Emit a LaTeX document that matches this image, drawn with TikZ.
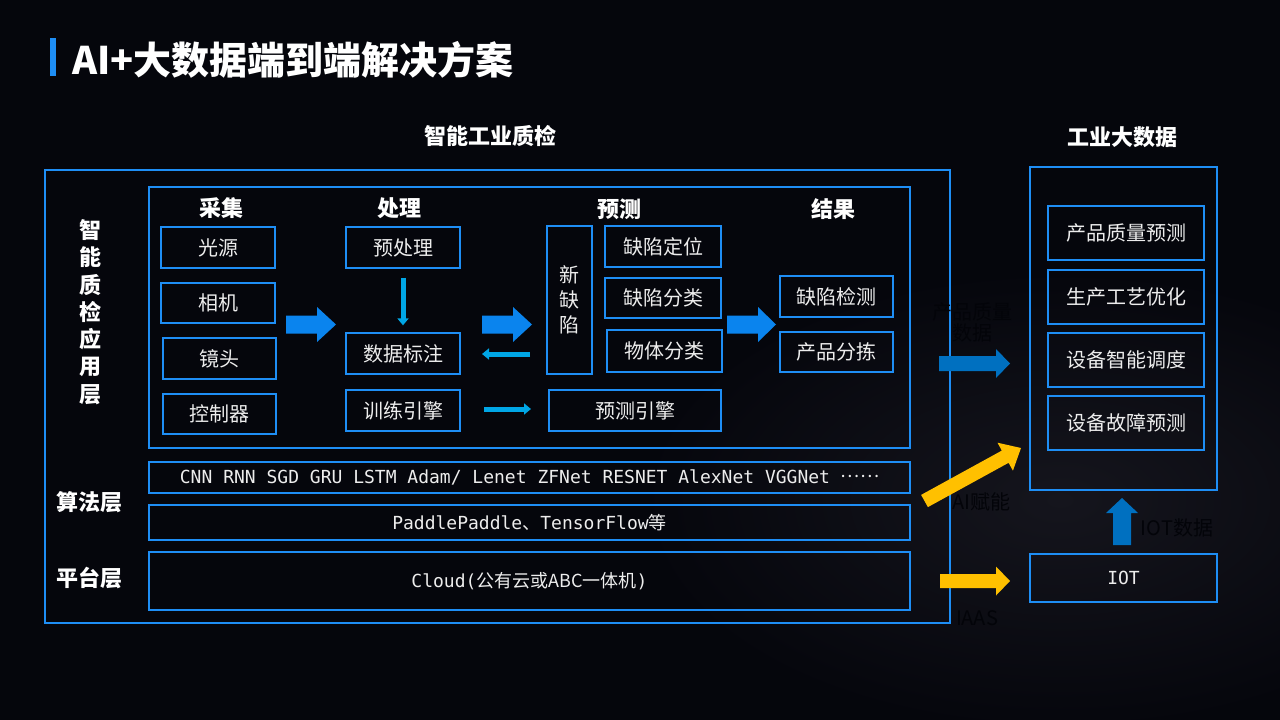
\documentclass[tikz,border=0pt]{standalone}
\usepackage{fontspec}
\newfontfamily\cjk{Noto Sans CJK SC}
\newfontfamily\monof{DejaVu Sans Mono}
\usetikzlibrary{arrows.meta}
\definecolor{bg}{HTML}{05060C}
\definecolor{glow}{HTML}{15151D}
\definecolor{boxblue}{HTML}{1E8EF5}
\definecolor{bigblue}{HTML}{0A84EE}
\definecolor{thinblue}{HTML}{00A6E6}
\definecolor{darkblue}{HTML}{0070C0}
\definecolor{gold}{HTML}{FFC000}
\definecolor{txt}{HTML}{EDEDED}
\definecolor{inktext}{HTML}{030409}
\tikzset{
  box/.style={draw=boxblue, line width=1.3, text=txt, inner sep=0pt,
    font=\cjk\fontsize{20}{24}\selectfont},
  frame/.style={draw=boxblue, line width=1.3, inner sep=0pt},
  hdr/.style={text=white, inner sep=0pt, font=\cjk\bfseries\fontsize{22}{26}\selectfont},
  vlabel/.style={text=white, inner sep=0pt, align=center,
    font=\cjk\bfseries\fontsize{22}{27.3}\selectfont},
  monotext/.style={text=txt, font=\monof\fontsize{18}{20}\selectfont},
  hiddentext/.style={text=inktext, inner sep=0pt, align=center,
    font=\cjk\fontsize{20}{21}\selectfont},
  thinarrow/.style={draw=thinblue, line width=5, -{Triangle[width=11,length=7]}},
}
\newcommand\blockR[7]{% x0, xhead, xtip, ymid, halfbody, halfhead, color
  \fill[#7] (#1,#4-#5) -- (#2,#4-#5) -- (#2,#4-#6) -- (#3,#4) -- (#2,#4+#6) -- (#2,#4+#5) -- (#1,#4+#5) -- cycle;}
\begin{document}
\begin{tikzpicture}[x=1pt,y=-1pt]
\useasboundingbox (0,0) rectangle (1280,720);
\fill[bg] (0,0) rectangle (1280,720);
\shade[inner color=glow, outer color=bg] (1060,500) ellipse [x radius=420, y radius=230];

% title
\fill[boxblue] (50,38) rectangle (56,76);
\node[anchor=west, inner sep=0pt, text=white, font=\cjk\bfseries\fontsize{38}{42}\selectfont] (title) at (72,60) {AI+大数据端到端解决方案};

% section headings
\node[hdr] (hqc) at (490,136) {智能工业质检};
\node[hdr] (hbd) at (1122,137) {工业大数据};

% frames
\node[frame, minimum width=905, minimum height=453] (outer) at (497.5,396.5) {};
\node[frame, minimum width=761, minimum height=261] (app) at (529.5,317.5) {};
\node[vlabel] (lapp) at (90,312) {智\\能\\质\\检\\应\\用\\层};
\node[hdr] (lalg) at (89,502) {算法层};
\node[hdr] (lplat) at (89,578) {平台层};

% column headers
\node[hdr] (hcj) at (221,208) {采集};
\node[hdr] (hcl) at (399,208) {处理};
\node[hdr] (hyc) at (619,209) {预测};
\node[hdr] (hjg) at (833,209) {结果};

% acquisition
\node[box, minimum width=114, minimum height=41] (gy) at (218,247.5) {光源};
\node[box, minimum width=114, minimum height=40] (xj) at (218,303) {相机};
\node[box, minimum width=113, minimum height=41] (jt) at (219.5,358.5) {镜头};
\node[box, minimum width=113, minimum height=40] (kzq) at (219.5,414) {控制器};

% processing
\node[box, minimum width=114, minimum height=41] (ycl) at (403,247.5) {预处理};
\node[box, minimum width=114, minimum height=41] (sjbz) at (403,353.5) {数据标注};
\node[box, minimum width=114, minimum height=41] (xlyq) at (403,410.5) {训练引擎};

% prediction
\node[box, minimum width=45, minimum height=148, align=center,
  font=\cjk\fontsize{20}{25}\selectfont] (xqx) at (569.5,300) {新\\缺\\陷};
\node[box, minimum width=116, minimum height=41] (qxdw) at (663,246.5) {缺陷定位};
\node[box, minimum width=116, minimum height=40] (qxfl) at (663,298) {缺陷分类};
\node[box, minimum width=115, minimum height=42] (wtfl) at (664.5,351) {物体分类};
\node[box, minimum width=172, minimum height=41] (ycyq) at (635,410.5) {预测引擎};

% results
\node[box, minimum width=113, minimum height=41] (qxjc) at (836.5,296.5) {缺陷检测};
\node[box, minimum width=113, minimum height=40] (cpfj) at (836.5,352) {产品分拣};

% arrows inside app layer
\blockR{286}{317}{336}{324.5}{9}{17.5}{bigblue}
\blockR{482}{513}{532}{324.5}{9}{17.5}{bigblue}
\blockR{727}{758}{776}{324.5}{9}{17.5}{bigblue}
\draw[thinarrow, shorten <=9, shorten >=7] (ycl.south) -- (sjbz.north);
\coordinate (la1) at (530,354);
\coordinate (la2) at (482,354);
\draw[thinarrow] (la1) -- (la2);
\coordinate (ra1) at (484,409);
\coordinate (ra2) at (531,409);
\draw[thinarrow] (ra1) -- (ra2);

% algorithm & platform layers
\node[box, minimum width=761, minimum height=31, monotext] (alg1) at (529.5,477.5)
  {CNN RNN SGD GRU LSTM Adam/ Lenet ZFNet RESNET AlexNet VGGNet {\cjk\raisebox{0.32em}{……}}};
\node[box, minimum width=761, minimum height=35, monotext] (alg2) at (529.5,522.5)
  {PaddlePaddle{\cjk 、}TensorFlow{\cjk 等}};
\node[box, minimum width=761, minimum height=58, monotext] (plat) at (529.5,581)
  {Cloud({\cjk 公有云或ABC一体机})};

% industrial big data
\node[frame, minimum width=187, minimum height=323] (bd) at (1123.5,328.5) {};
\node[box, minimum width=156, minimum height=54] (b1) at (1126,233) {产品质量预测};
\node[box, minimum width=156, minimum height=54] (b2) at (1126,297) {生产工艺优化};
\node[box, minimum width=156, minimum height=54] (b3) at (1126,360) {设备智能调度};
\node[box, minimum width=156, minimum height=54] (b4) at (1126,423) {设备故障预测};
\node[box, minimum width=187, minimum height=48, monotext] (iot) at (1123.5,578) {IOT};

% connecting block arrows
\blockR{939}{996}{1010}{363.5}{7.5}{14.5}{darkblue}
\blockR{940}{996}{1010}{581}{7}{14.5}{gold}
\fill[gold] (921.1,494.9) -- (1001.8,450.6) -- (997.5,442.7) -- (1021,448) -- (1012.9,470.7) -- (1008.6,462.8) -- (927.9,507.1) -- cycle;
\fill[darkblue] (1113,545) -- (1113,513) -- (1106,513) -- (1122,498) -- (1138,513) -- (1131,513) -- (1131,545) -- cycle;

% labels printed in near-black
\node[hiddentext] (t1) at (972,322) {产品质量\\数据};
\node[hiddentext] (t2) at (981,502) {AI赋能};
\node[hiddentext] (t3) at (1177,528) {IOT数据};
\node[hiddentext] (t4) at (977,618) {IAAS};
\end{tikzpicture}
\end{document}
